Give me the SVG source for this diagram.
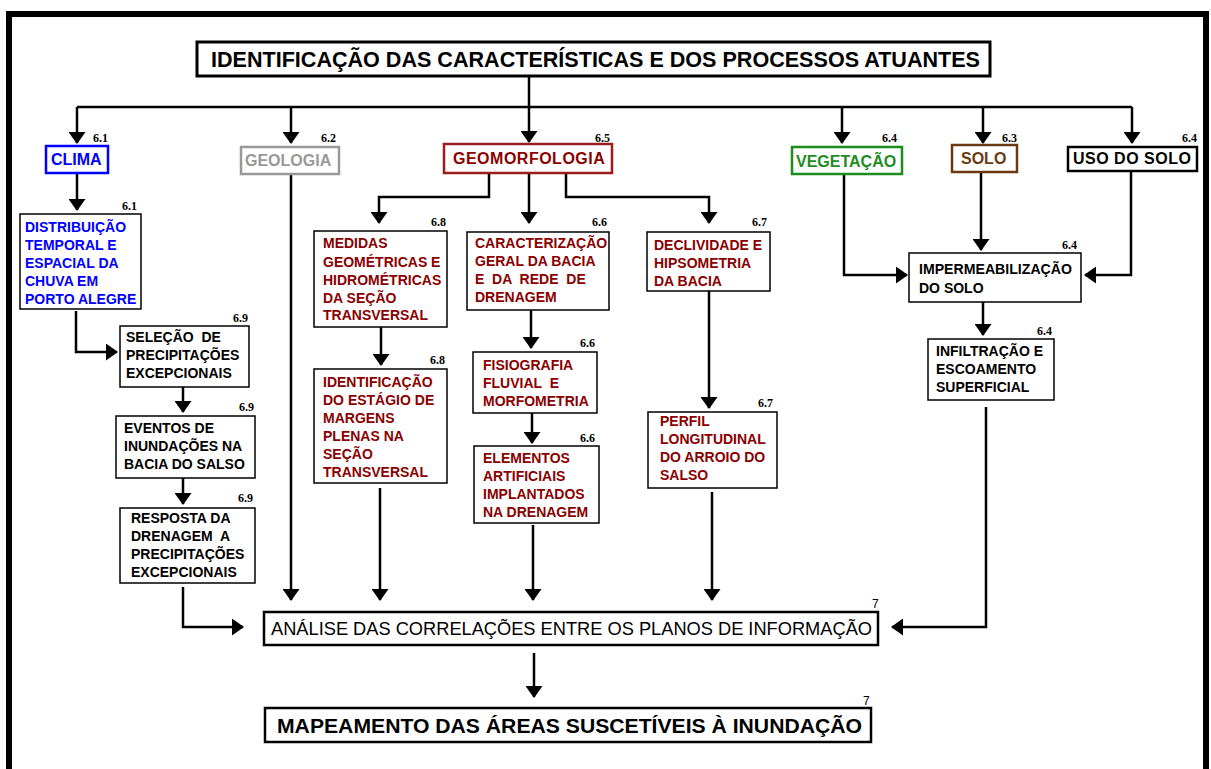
<svg xmlns="http://www.w3.org/2000/svg" width="1211" height="769" viewBox="0 0 1211 769">
<defs>
<marker id="ah" viewBox="0 0 12 17" markerWidth="12" markerHeight="17" refX="11" refY="8.5" orient="auto" markerUnits="userSpaceOnUse">
<path d="M0,0 L12,8.5 L0,17 z" fill="#000"/>
</marker>
<style>
.frame{fill:none;stroke:#000;stroke-width:6}
.c{fill:none;stroke:#000;stroke-width:2.5}
.ca{fill:none;stroke:#000;stroke-width:2.5;marker-end:url(#ah)}
.box{fill:#fff;stroke:#000;stroke-width:1.5}
.hb{fill:#fff;stroke-width:2.5}
.t{font-family:"Liberation Sans",Arial,sans-serif;font-weight:bold;font-size:14px;fill:#000}
.h{font-family:"Liberation Sans",Arial,sans-serif;font-weight:bold;font-size:16px}
.n{font-family:"Liberation Serif","Times New Roman",serif;font-weight:bold;font-size:12px;fill:#000}
.s{font-family:"Liberation Sans",Arial,sans-serif;font-size:12px;fill:#000}
.blue{fill:#0000ff}
.red{fill:#8b0000}
.big{font-family:"Liberation Sans",Arial,sans-serif;fill:#000}
</style>
</defs>
<rect x="0" y="0" width="1211" height="769" fill="#fff"/>
<rect class="frame" x="9" y="14" width="1197" height="800"/>

<g id="connectors">
<path class="c" d="M529,76 V107 M77,107 H1132"/>
<path class="ca" d="M77,107 V143"/>
<path class="ca" d="M291,107 V143"/>
<path class="ca" d="M529,107 V142"/>
<path class="ca" d="M842,107 V143"/>
<path class="ca" d="M983,107 V143"/>
<path class="ca" d="M1132,107 V143"/>
<path class="ca" d="M77,174 V210"/>
<path class="ca" d="M76,311 V352 H117"/>
<path class="ca" d="M183,387 V412"/>
<path class="ca" d="M183,478 V504"/>
<path class="ca" d="M183,587 V627 H243"/>
<path class="ca" d="M291,175 V600"/>
<path class="ca" d="M489,173 V197 H379 V223"/>
<path class="ca" d="M529,173 V223"/>
<path class="ca" d="M566,173 V197 H709 V223"/>
<path class="ca" d="M381,327 V365"/>
<path class="ca" d="M531,310 V348"/>
<path class="ca" d="M532,413 V443"/>
<path class="ca" d="M709,291 V408"/>
<path class="ca" d="M380,488 V600"/>
<path class="ca" d="M533,525 V600"/>
<path class="ca" d="M712,492 V600"/>
<path class="ca" d="M844,175 V275 H907"/>
<path class="ca" d="M981,172 V250"/>
<path class="ca" d="M1131,171 V275 H1085"/>
<path class="ca" d="M983,302 V335"/>
<path class="ca" d="M986,407 V627 H892"/>
<path class="ca" d="M534,653 V697"/>
</g>

<g id="title">
<rect x="197" y="42" width="793" height="34" fill="#fff" stroke="#000" stroke-width="3"/>
<text class="big" x="211" y="67" font-size="22" font-weight="bold" textLength="769" lengthAdjust="spacingAndGlyphs">IDENTIFICAÇÃO DAS CARACTERÍSTICAS E DOS PROCESSOS ATUANTES</text>
</g>

<g id="clima">
<rect class="hb" x="46" y="146" width="62" height="27" stroke="#0000ff"/>
<text class="h blue" x="51" y="165">CLIMA</text>
<text class="n" x="93" y="142">6.1</text>
</g>

<g id="geologia">
<rect class="hb" x="241" y="147" width="98" height="27" stroke="#999"/>
<text class="h" x="245" y="166" fill="#999" font-weight="normal" font-size="17">GEOLOGIA</text>
<text class="n" x="321" y="142">6.2</text>
</g>

<g id="geomorfologia">
<rect class="hb" x="444" y="144" width="168" height="29" stroke="#9b1c1c"/>
<text class="h red" x="453" y="164" letter-spacing="0.5">GEOMORFOLOGIA</text>
<text class="n" x="595" y="142">6.5</text>
</g>

<g id="vegetacao">
<rect class="hb" x="792" y="147" width="110" height="27" stroke="#1e8c1e"/>
<text class="h" x="796" y="167" fill="#1e8c1e">VEGETAÇÃO</text>
<text class="n" x="882" y="142">6.4</text>
</g>

<g id="solo">
<rect class="hb" x="952" y="145" width="65" height="27" stroke="#6b3a12"/>
<text class="h" x="961" y="164" fill="#6b3a12">SOLO</text>
<text class="n" x="1002" y="142">6.3</text>
</g>

<g id="uso-do-solo">
<rect class="hb" x="1068" y="147" width="129" height="24" stroke="#000"/>
<text class="h" x="1073" y="164" fill="#000" letter-spacing="0.5">USO DO SOLO</text>
<text class="n" x="1182" y="142">6.4</text>
</g>

<g id="distribuicao">
<rect class="box" x="20" y="214" width="121" height="95" stroke="#0000ff"/>
<text class="t blue" x="25" y="232">DISTRIBUIÇÃO</text>
<text class="t blue" x="25" y="250">TEMPORAL E</text>
<text class="t blue" x="25" y="268">ESPACIAL DA</text>
<text class="t blue" x="25" y="286">CHUVA EM</text>
<text class="t blue" x="25" y="304">PORTO ALEGRE</text>
<text class="n" x="122" y="210">6.1</text>
</g>

<g id="selecao">
<rect class="box" x="120" y="326" width="129" height="61"/>
<text class="t" x="126" y="342" xml:space="preserve">SELEÇÃO  DE</text>
<text class="t" x="126" y="360">PRECIPITAÇÕES</text>
<text class="t" x="126" y="378">EXCEPCIONAIS</text>
<text class="n" x="233" y="322">6.9</text>
</g>

<g id="eventos">
<rect class="box" x="116" y="416" width="139" height="62"/>
<text class="t" x="124" y="433">EVENTOS DE</text>
<text class="t" x="124" y="451">INUNDAÇÕES NA</text>
<text class="t" x="124" y="469">BACIA DO SALSO</text>
<text class="n" x="239" y="411">6.9</text>
</g>

<g id="resposta">
<rect class="box" x="120" y="508" width="135" height="75"/>
<text class="t" x="131" y="523">RESPOSTA DA</text>
<text class="t" x="131" y="541" xml:space="preserve">DRENAGEM  A</text>
<text class="t" x="131" y="559">PRECIPITAÇÕES</text>
<text class="t" x="131" y="577">EXCEPCIONAIS</text>
<text class="n" x="238" y="502">6.9</text>
</g>

<g id="medidas">
<rect class="box" x="314" y="231" width="133" height="96" stroke="#9b1c1c"/>
<text class="t red" x="323" y="248">MEDIDAS</text>
<text class="t red" x="323" y="267">GEOMÉTRICAS E</text>
<text class="t red" x="323" y="285">HIDROMÉTRICAS</text>
<text class="t red" x="323" y="303">DA SEÇÃO</text>
<text class="t red" x="323" y="320">TRANSVERSAL</text>
<text class="n" x="431" y="226">6.8</text>
</g>

<g id="identificacao">
<rect class="box" x="314" y="369" width="133" height="114" stroke="#9b1c1c"/>
<text class="t red" x="323" y="387">IDENTIFICAÇÃO</text>
<text class="t red" x="323" y="405">DO ESTÁGIO DE</text>
<text class="t red" x="323" y="423">MARGENS</text>
<text class="t red" x="323" y="441">PLENAS NA</text>
<text class="t red" x="323" y="459">SEÇÃO</text>
<text class="t red" x="323" y="477">TRANSVERSAL</text>
<text class="n" x="430" y="364">6.8</text>
</g>

<g id="caracterizacao">
<rect class="box" x="467" y="232" width="142" height="78" stroke="#9b1c1c"/>
<text class="t red" x="475" y="248">CARACTERIZAÇÃO</text>
<text class="t red" x="475" y="266">GERAL DA BACIA</text>
<text class="t red" x="475" y="284" xml:space="preserve">E  DA  REDE  DE</text>
<text class="t red" x="475" y="302">DRENAGEM</text>
<text class="n" x="592" y="226">6.6</text>
</g>

<g id="fisiografia">
<rect class="box" x="473" y="352" width="124" height="61" stroke="#9b1c1c"/>
<text class="t red" x="483" y="370">FISIOGRAFIA</text>
<text class="t red" x="483" y="388" xml:space="preserve">FLUVIAL  E</text>
<text class="t red" x="483" y="406">MORFOMETRIA</text>
<text class="n" x="580" y="347">6.6</text>
</g>

<g id="elementos">
<rect class="box" x="474" y="446" width="125" height="77" stroke="#9b1c1c"/>
<text class="t red" x="483" y="463">ELEMENTOS</text>
<text class="t red" x="483" y="481">ARTIFICIAIS</text>
<text class="t red" x="483" y="499">IMPLANTADOS</text>
<text class="t red" x="483" y="517">NA DRENAGEM</text>
<text class="n" x="580" y="442">6.6</text>
</g>

<g id="declividade">
<rect class="box" x="647" y="232" width="123" height="59" stroke="#9b1c1c"/>
<text class="t red" x="654" y="250">DECLIVIDADE E</text>
<text class="t red" x="654" y="268">HIPSOMETRIA</text>
<text class="t red" x="654" y="286">DA BACIA</text>
<text class="n" x="752" y="226">6.7</text>
</g>

<g id="perfil">
<rect class="box" x="648" y="412" width="129" height="76" stroke="#9b1c1c"/>
<text class="t red" x="660" y="426">PERFIL</text>
<text class="t red" x="660" y="444">LONGITUDINAL</text>
<text class="t red" x="660" y="462">DO ARROIO DO</text>
<text class="t red" x="660" y="480">SALSO</text>
<text class="n" x="758" y="407">6.7</text>
</g>

<g id="impermeabilizacao">
<rect class="box" x="909" y="253" width="172" height="49"/>
<text class="t" x="919" y="274" textLength="153" lengthAdjust="spacingAndGlyphs">IMPERMEABILIZAÇÃO</text>
<text class="t" x="919" y="293">DO SOLO</text>
<text class="n" x="1062" y="249">6.4</text>
</g>

<g id="infiltracao">
<rect class="box" x="928" y="339" width="126" height="61"/>
<text class="t" x="936" y="356">INFILTRAÇÃO E</text>
<text class="t" x="936" y="374">ESCOAMENTO</text>
<text class="t" x="936" y="392">SUPERFICIAL</text>
<text class="n" x="1037" y="335">6.4</text>
</g>

<g id="analise">
<rect x="264" y="612" width="614" height="33" fill="#fff" stroke="#000" stroke-width="2.5"/>
<text class="big" x="271" y="635" font-size="19" textLength="601" lengthAdjust="spacingAndGlyphs">ANÁLISE DAS CORRELAÇÕES ENTRE OS PLANOS DE INFORMAÇÃO</text>
<text class="s" x="872" y="608">7</text>
</g>

<g id="mapeamento">
<rect x="265" y="708" width="606" height="34" fill="#fff" stroke="#000" stroke-width="2.5"/>
<text class="big" x="277" y="733" font-size="21" font-weight="bold" textLength="585" lengthAdjust="spacingAndGlyphs">MAPEAMENTO DAS ÁREAS SUSCETÍVEIS À INUNDAÇÃO</text>
<text class="s" x="863" y="705">7</text>
</g>
</svg>
